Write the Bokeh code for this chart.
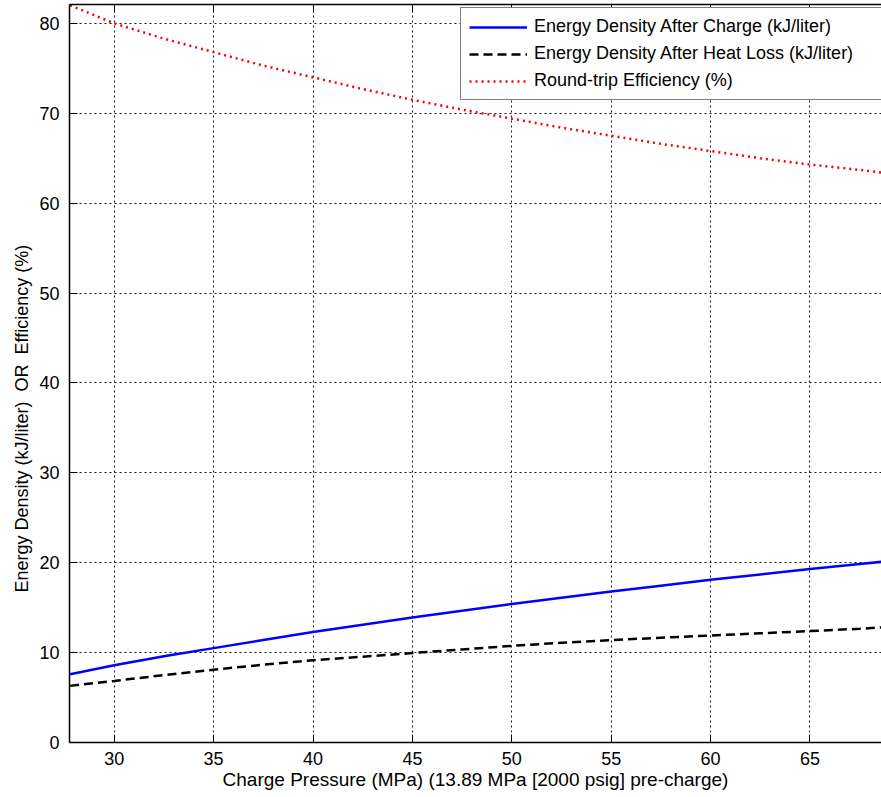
from bokeh.plotting import figure
from bokeh.models import (ColumnDataSource, Legend, LegendItem, LinearAxis,
                          Range1d, SingleIntervalTicker, Title)
from bokeh.embed import file_html
from bokeh.resources import INLINE

# Charge pressure (MPa), 13.89 MPa pre-charge
pressure = [27.78, 30.0, 32.5, 35.0, 37.5, 40.0, 42.5, 45.0, 47.5, 50.0,
            52.5, 55.0, 57.5, 60.0, 62.5, 65.0, 67.5, 68.6]
# Energy density right after charge (kJ/liter)
energy_after_charge = [7.6, 8.6, 9.6, 10.5, 11.4, 12.3, 13.1, 13.9, 14.65, 15.4,
                       16.1, 16.8, 17.45, 18.1, 18.7, 19.3, 19.85, 20.1]
# Energy density after heat loss (kJ/liter)
energy_after_heat_loss = [6.3, 6.85, 7.5, 8.1, 8.65, 9.15, 9.55, 9.95, 10.35, 10.75,
                          11.1, 11.4, 11.65, 11.9, 12.15, 12.4, 12.65, 12.8]
# Round-trip efficiency (%)
round_trip_efficiency = [82.0, 80.0, 78.3, 76.8, 75.3, 74.0, 72.7, 71.5, 70.4, 69.4,
                         68.4, 67.5, 66.6, 65.8, 65.0, 64.3, 63.7, 63.4]

series_labels = ["Energy Density After Charge (kJ/liter)",
                 "Energy Density After Heat Loss (kJ/liter)",
                 "Round-trip Efficiency (%)"]
x_label = "Charge Pressure (MPa) (13.89 MPa [2000 psig] pre-charge)"
# non-breaking spaces keep the wide gaps around "OR"
y_label = "Energy Density (kJ/liter)\u00a0\u00a0OR\u00a0\u00a0Efficiency (%)"

FONT = "Liberation Sans"

src = ColumnDataSource(dict(p=pressure, ec=energy_after_charge,
                            eh=energy_after_heat_loss, eff=round_trip_efficiency))

p = figure(width=881, height=797, output_backend="svg", toolbar_location=None,
           x_range=Range1d(27.75, 68.6), y_range=Range1d(0, 82.1),
           min_border_left=69, min_border_right=0, min_border_top=4,
           min_border_bottom=55)
p.background_fill_color = "white"
p.border_fill_color = "white"
p.outline_line_color = None

# bottom / left axes (inward ticks)
xt = SingleIntervalTicker(interval=5)
yt = SingleIntervalTicker(interval=10)
p.xaxis.ticker = xt
p.yaxis.ticker = yt
for ax in (p.xaxis[0], p.yaxis[0]):
    ax.major_tick_in = 8
    ax.major_tick_out = 0
    ax.minor_tick_line_color = None
    ax.axis_line_color = "black"
    ax.axis_line_width = 1.5
    ax.major_tick_line_color = "black"
    ax.major_tick_line_width = 1
    ax.major_label_text_font = FONT
    ax.major_label_text_font_size = "18px"
    ax.major_label_text_color = "black"
p.xaxis.axis_label = x_label
p.xaxis.axis_label_text_font = FONT
p.xaxis.axis_label_text_font_size = "19px"
p.xaxis.axis_label_text_font_style = "normal"
p.xaxis.axis_label_text_color = "black"
p.xaxis.major_label_standoff = 5
p.xaxis.axis_label_standoff = 1
p.yaxis.major_label_standoff = 6

# vertical axis title, set a little below the middle of the axis
ytitle = Title(text=y_label, align="left", offset=150, standoff=10,
               text_font=FONT, text_font_size="18px", text_font_style="normal",
               text_color="black")
p.add_layout(ytitle, "left")

# top border with inward ticks, no labels
top = LinearAxis(ticker=SingleIntervalTicker(interval=5))
top.major_tick_in = 8
top.major_tick_out = 0
top.minor_tick_line_color = None
top.axis_line_color = "black"
top.axis_line_width = 1.5
top.major_label_text_color = None
top.major_label_text_font_size = "1px"
top.major_label_standoff = 0
p.add_layout(top, "above")

# dotted grid
for g, t in ((p.xgrid[0], xt), (p.ygrid[0], yt)):
    g.ticker = t
    g.grid_line_color = "black"
    g.grid_line_alpha = 0.9
    g.grid_line_width = 1
    g.grid_line_dash = "2 3"

r1 = p.line("p", "ec", source=src, line_color="#0000ff", line_width=2.5)
r2 = p.line("p", "eh", source=src, line_color="black", line_width=2.5,
            line_dash="9 5")
r3 = p.line("p", "eff", source=src, line_color="#ff0000", line_width=2.5,
            line_dash="2 4")

legend = Legend(items=[LegendItem(label=series_labels[0], renderers=[r1]),
                       LegendItem(label=series_labels[1], renderers=[r2]),
                       LegendItem(label=series_labels[2], renderers=[r3])],
                location=(391, 642))
legend.label_text_font = FONT
legend.label_text_font_size = "18px"
legend.label_text_color = "black"
legend.glyph_width = 58
legend.glyph_height = 20
legend.label_height = 20
legend.label_width = 339
legend.label_standoff = 7
legend.spacing = 6
legend.padding = 8
legend.margin = 0
legend.border_line_color = "black"
legend.border_line_width = 1.5
legend.background_fill_color = "white"
legend.background_fill_alpha = 1
p.add_layout(legend, "center")

open("out.html", "w").write(file_html(p, INLINE))
